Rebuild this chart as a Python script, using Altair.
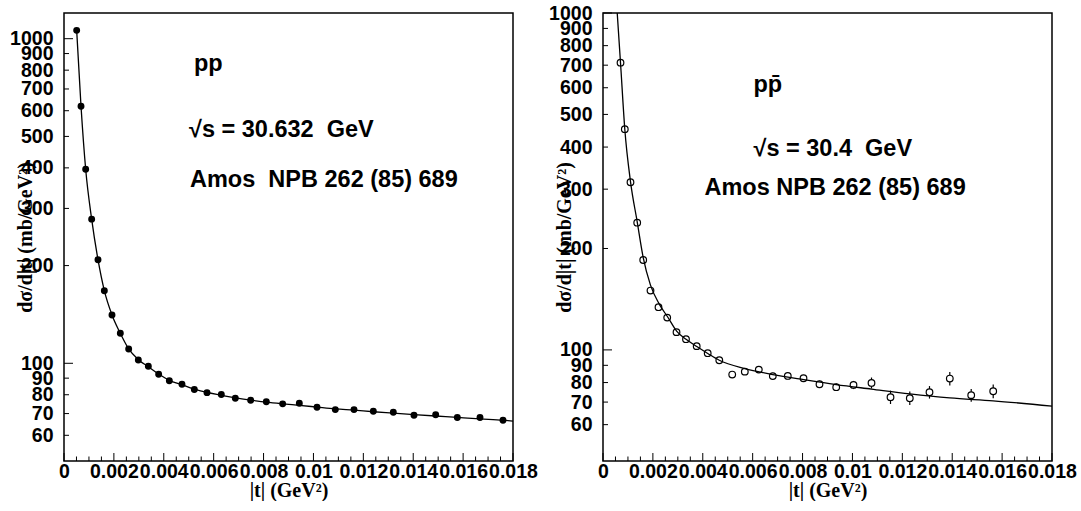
import altair as alt
import pandas as pd

# ---------------- data ----------------
# pp, sqrt(s)=30.632 GeV
pp_t = [0.000508, 0.000682, 0.000869, 0.001109, 0.001363, 0.001617, 0.001924, 0.002258,
        0.002593, 0.00298, 0.003381, 0.003795, 0.004223, 0.00473, 0.005225, 0.005733,
        0.006307, 0.006868, 0.007483, 0.008111, 0.008766, 0.009434, 0.010143, 0.010877,
        0.011626, 0.012401, 0.013202, 0.014031, 0.0149, 0.015768, 0.016677, 0.017599]
pp_v = [1061, 619, 396, 278, 208.5, 167.4, 140.9, 123.7, 110.7, 102.4, 97.9, 92.5, 88.3,
        86.2, 83.0, 81.2, 80.1, 78.0, 76.9, 76.1, 75.0, 75.3, 73.2, 72.0, 72.0, 71.2, 70.7,
        69.2, 69.4, 68.1, 68.1, 66.8]
pp_fit_t = pp_t + [0.018]
pp_fit_v = [1061, 619, 396, 278, 208.5, 167.4, 140.9, 123.7, 110.7, 102.6, 97.6, 92.7, 88.6,
            85.9, 83.3, 81.3, 79.7, 78.2, 77.0, 75.9, 75.0, 74.2, 73.3, 72.4, 71.7, 70.9,
            70.2, 69.5, 68.8, 68.1, 67.4, 66.8, 66.3]

# p pbar, sqrt(s)=30.4 GeV
pb_t = [0.000702, 0.000874, 0.001102, 0.001371, 0.001612, 0.001904, 0.002225, 0.002574,
        0.002947, 0.003327, 0.003756, 0.004197, 0.004662, 0.00518, 0.005685, 0.006246,
        0.006807, 0.007408, 0.008038, 0.008679, 0.009349, 0.010042, 0.010764, 0.011526,
        0.012299, 0.013089, 0.013903, 0.014761, 0.015643]
pb_v = [712, 452, 314.5, 238.6, 184.9, 150.0, 133.9, 124.7, 112.9, 107.6, 102.6, 97.8, 93.2,
        84.5, 86.2, 87.4, 83.6, 83.7, 82.4, 79.1, 77.5, 78.7, 79.8, 72.4, 71.9, 74.9, 82.2,
        73.4, 75.4]
pb_err = [14, 9, 6, 4.5, 3.5, 3, 2.6, 2.4, 2.2, 2.0, 1.9, 1.8, 1.8, 1.9, 1.9, 1.9, 1.9, 1.9,
          1.9, 1.9, 2.0, 2.2, 3.0, 3.3, 3.3, 3.2, 3.8, 3.2, 3.5]
pb_fit_t = [0.00057, 0.000702, 0.000874, 0.001102, 0.001371, 0.001612, 0.0019, 0.00225,
            0.0026, 0.00296, 0.00333, 0.00376, 0.0042, 0.00466, 0.00569, 0.00681, 0.00805,
            0.00935, 0.01076, 0.0123, 0.0139, 0.01564, 0.018]
pb_fit_v = [1000, 712, 452, 316, 240, 188, 156, 137, 125, 113.5, 107.5, 102.3, 97.6, 93.2,
            88.0, 84.5, 81.6, 78.9, 76.5, 74.0, 72.0, 70.6, 68.1]

# axis ticks / labels
x_major = [0, 0.002, 0.004, 0.006, 0.008, 0.01, 0.012, 0.014, 0.016, 0.018]
x_minor = [0.0005, 0.001, 0.0015, 0.0025, 0.003, 0.0035, 0.0045, 0.005, 0.0055, 0.0065,
           0.007, 0.0075, 0.0085, 0.009, 0.0095, 0.0105, 0.011, 0.0115, 0.0125, 0.013,
           0.0135, 0.0145, 0.015, 0.0155, 0.0165, 0.017, 0.0175]
y_labels = [60, 70, 80, 90, 100, 200, 300, 400, 500, 600, 700, 800, 900, 1000]
y_long = [100, 1000]
y_short = [60, 70, 80, 90, 200, 300, 400, 500, 600, 700, 800, 900]

W, H = 449, 448
SANS = "Liberation Sans"
SERIF = "Liberation Serif"
TXT = 23.5


def panel(pts, fit, ydomain, texts, open_markers, err=None):
    xs = alt.Scale(domain=[0, 0.018], nice=False, zero=False)
    ys = alt.Scale(type="log", domain=ydomain, nice=False)
    xaxis = alt.Axis(values=x_major, format="~g", ticks=False, domain=False, grid=False,
                     labelPadding=1, labelFlush=False, labelOverlap=False,
                     labelFont=SANS, labelFontSize=19.5, labelFontWeight="bold",
                     labelColor="black", title="|t| (GeV²)", titleFont=SERIF,
                     titleFontSize=20, titleFontWeight="bold", titleColor="black",
                     titleX=W / 2, titleY=35, titleBaseline="alphabetic", titleAlign="center")
    yaxis = alt.Axis(values=y_labels, format="~g", ticks=False, domain=False, grid=False,
                     labelPadding=11, labelFlush=False, labelOverlap=False,
                     labelFont=SANS, labelFontSize=19.5, labelFontWeight="bold",
                     labelColor="black", title="dσ/d|t| (mb/GeV²)", titleFont=SERIF,
                     titleFontSize=20, titleFontWeight="bold", titleColor="black",
                     titleX=-33, titleY=H / 2, titleAngle=270, titleBaseline="alphabetic",
                     titleAlign="center")
    X = alt.X("t:Q", scale=xs, axis=xaxis)
    Y = alt.Y("v:Q", scale=ys, axis=yaxis)

    layers = []
    # inward ticks
    layers.append(alt.Chart(pd.DataFrame({"t": x_major})).mark_rule(color="black", strokeWidth=1)
                  .encode(x=X, y=alt.value(H), y2=alt.value(H - 8)))
    layers.append(alt.Chart(pd.DataFrame({"t": x_minor})).mark_rule(color="black", strokeWidth=1)
                  .encode(x=X, y=alt.value(H), y2=alt.value(H - 4.5)))
    layers.append(alt.Chart(pd.DataFrame({"v": y_long})).mark_rule(color="black", strokeWidth=1)
                  .encode(y=Y, x=alt.value(0), x2=alt.value(9)))
    layers.append(alt.Chart(pd.DataFrame({"v": y_short})).mark_rule(color="black", strokeWidth=1)
                  .encode(y=Y, x=alt.value(0), x2=alt.value(5)))

    if err is not None:
        layers.append(alt.Chart(err).mark_rule(color="black", strokeWidth=1.2)
                      .encode(x=X, y=alt.Y("lo:Q", scale=ys, axis=yaxis), y2="hi:Q"))

    if open_markers:
        layers.append(alt.Chart(pts).mark_point(shape="circle", filled=True, fill="white",
                                                stroke="black", strokeWidth=1.2, size=44,
                                                opacity=1)
                      .encode(x=X, y=Y))
        layers.append(alt.Chart(fit).mark_line(color="black", strokeWidth=1.3,
                                               interpolate="monotone", clip=True)
                      .encode(x=X, y=Y, order="t:Q"))
    else:
        layers.append(alt.Chart(fit).mark_line(color="black", strokeWidth=1.3,
                                               interpolate="monotone", clip=True)
                      .encode(x=X, y=Y, order="t:Q"))
        layers.append(alt.Chart(pts).mark_circle(color="black", size=48, opacity=1)
                      .encode(x=X, y=Y))

    for label, px, py in texts:
        layers.append(alt.Chart(pd.DataFrame({"label": [label]}))
                      .mark_text(align="left", baseline="alphabetic", font=SANS,
                                 fontWeight="bold", fontSize=TXT, color="black")
                      .encode(x=alt.value(px), y=alt.value(py), text="label:N"))

    return alt.layer(*layers).properties(width=W, height=H)


pp_pts = pd.DataFrame({"t": pp_t, "v": pp_v})
pp_fit = pd.DataFrame({"t": pp_fit_t, "v": pp_fit_v})
pb_pts = pd.DataFrame({"t": pb_t, "v": pb_v})
pb_fit = pd.DataFrame({"t": pb_fit_t, "v": pb_fit_v})
pb_errdf = pd.DataFrame({"t": pb_t,
                         "lo": [v - e for v, e in zip(pb_v, pb_err)],
                         "hi": [v + e for v, e in zip(pb_v, pb_err)]})

left = panel(pp_pts, pp_fit, [50, 1200],
             [("pp", 130, 58),
              ("√s = 30.632 \u00a0GeV", 125, 124),
              ("Amos \u00a0NPB 262 (85) 689", 126, 174)],
             open_markers=False)
right = panel(pb_pts, pb_fit, [46.8, 1000],
              [("pp\u0304", 150.5, 79),
               ("√s = 30.4 \u00a0GeV", 150.5, 143),
               ("Amos NPB 262 (85) 689", 101.5, 182)],
              open_markers=True, err=pb_errdf)

chart = alt.hconcat(left, right, spacing=90, bounds="flush").properties(
    padding={"left": 8, "top": 2, "right": 0, "bottom": 0},
    background="white",
).configure_view(stroke="black", strokeWidth=1.5)

chart.save("out.html", embed_options={"renderer": "svg", "actions": False})
